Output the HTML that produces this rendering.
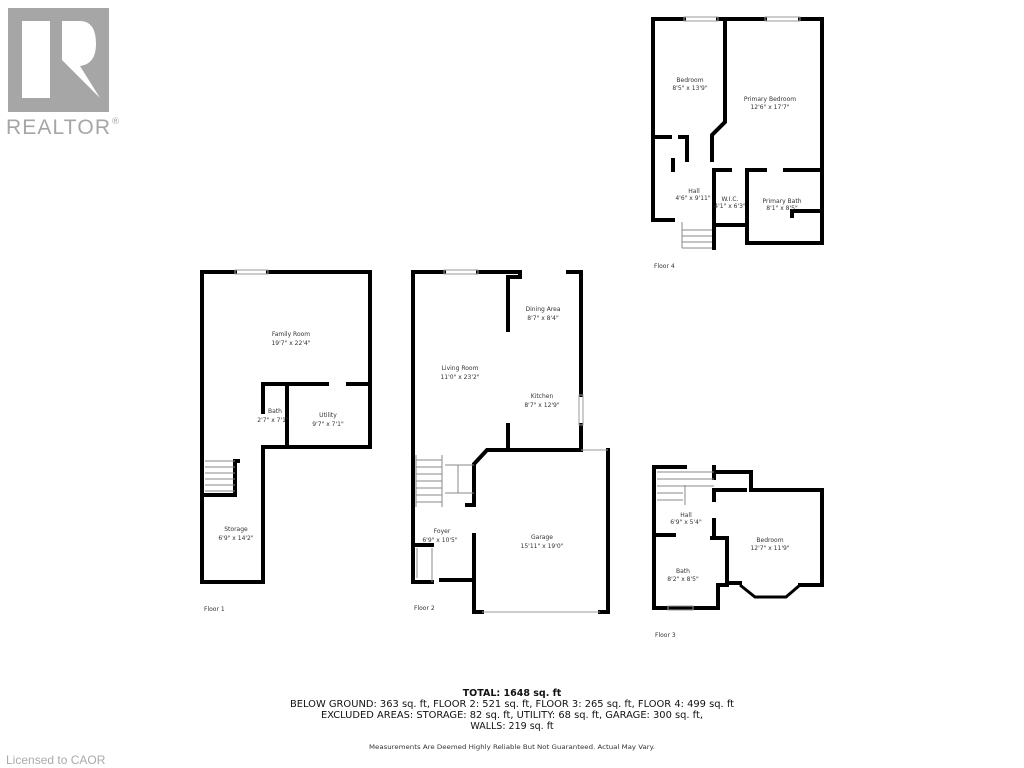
<!DOCTYPE html>
<html><head><meta charset="utf-8"><style>
body{margin:0;background:#fff;width:1024px;height:768px;overflow:hidden;font-family:"Liberation Sans",sans-serif}
svg{position:absolute;left:0;top:0}
</style></head><body>
<svg width="1024" height="768" viewBox="0 0 1024 768" font-family="DejaVu Sans, sans-serif">
<!-- REALTOR logo -->
<rect x="8" y="8" width="101" height="104" fill="#a6a6a6"/>
<rect x="22" y="21" width="28" height="77" fill="#fff"/>
<path d="M62 21 H80 Q96 21 96 44 Q96 64 80 66 L100 98 L62 60 Z" fill="#fff"/>
<text x="6" y="134" font-size="21" fill="#a6a6a6" font-family="Liberation Sans, sans-serif" textLength="104">REALTOR</text>
<text x="111" y="124" font-size="9" fill="#a6a6a6">®</text>

<g fill="none" stroke="#000" stroke-width="4" stroke-linecap="square">
<!-- Floor 1 -->
<polyline points="235,272 202,272 202,582 263,582 263,447 370,447 370,272 268,272"/>
<polyline points="263,412 263,384 327,384"/>
<line x1="348" y1="384" x2="370" y2="384"/>
<line x1="287" y1="384" x2="287" y2="447"/>
<polyline points="202,495 235,495 235,461 238,461"/>
<!-- Floor 2 -->
<polyline points="444,272 413,272 413,582 432,582"/>
<polyline points="478,272 520,272 520,277 508,277 508,330"/>
<line x1="508" y1="425" x2="508" y2="450"/>
<polyline points="568,272 581,272 581,395"/>
<polyline points="581,425 581,450 487,450 474,464 474,505"/>
<polyline points="474,535 474,612 482,612"/>
<polyline points="600,612 608,612 608,450"/>
<polyline points="413,545 432,545"/>
<line x1="467" y1="505" x2="474" y2="505"/>
<line x1="441" y1="580" x2="470" y2="580"/>
<!-- Floor 3 -->
<polyline points="685,467 654,467 654,608 718,608 718,585 727,585 727,538 712,538"/>
<line x1="654" y1="535" x2="674" y2="535"/>
<polyline points="714,467 714,478"/>
<polyline points="714,472 751,472 751,490 822,490 822,585 800,585"/>
<polyline points="740,583 727,583"/>
<line x1="714" y1="490" x2="714" y2="500"/>
<line x1="714" y1="520" x2="714" y2="538"/>
<line x1="718" y1="490" x2="745" y2="490"/>
<!-- Floor 4 -->
<polyline points="684,19 653,19 653,220 673,220"/>
<polyline points="718,19 765,19"/>
<polyline points="800,19 822,19 822,243 747,243 747,170 765,170"/>
<polyline points="785,170 822,170"/>
<polyline points="725,19 725,122 712,135 712,160"/>
<polyline points="714,170 714,248"/>
<polyline points="714,225 747,225"/>
<polyline points="714,170 730,170"/>
<polyline points="653,137 670,137"/>
<polyline points="680,137 687,137 687,160"/>
<line x1="673" y1="160" x2="673" y2="170"/>
<polyline points="792,216 792,211 820,211"/>
</g>
<g fill="none" stroke="#999" stroke-width="1">
<rect x="235" y="270" width="33" height="4"/>
<rect x="444" y="270" width="34" height="4"/>
<rect x="579" y="395" width="4" height="30"/>
<rect x="684" y="17" width="34" height="4"/>
<rect x="765" y="17" width="35" height="4"/>
<rect x="668" y="606" width="25" height="4"/>
<line x1="608" y1="450" x2="581" y2="450"/>
<line x1="482" y1="612" x2="600" y2="612"/>
<polyline points="740,585 755,597 786,597 800,585" stroke="#000" stroke-width="3"/>
<g stroke="#888">
<line x1="205" y1="461" x2="235" y2="461"/><line x1="205" y1="467" x2="235" y2="467"/><line x1="205" y1="473" x2="235" y2="473"/><line x1="205" y1="479" x2="235" y2="479"/><line x1="205" y1="485" x2="235" y2="485"/><line x1="205" y1="491" x2="235" y2="491"/>
<line x1="416" y1="455" x2="416" y2="507"/><line x1="442" y1="455" x2="442" y2="507"/>
<line x1="416" y1="460" x2="442" y2="460"/><line x1="416" y1="467" x2="442" y2="467"/><line x1="416" y1="474" x2="442" y2="474"/><line x1="416" y1="481" x2="442" y2="481"/><line x1="416" y1="488" x2="442" y2="488"/><line x1="416" y1="495" x2="442" y2="495"/><line x1="416" y1="502" x2="442" y2="502"/>
<line x1="445" y1="465" x2="474" y2="465"/><line x1="445" y1="493" x2="474" y2="493"/><line x1="458" y1="465" x2="458" y2="493"/>
<line x1="657" y1="472" x2="714" y2="472"/><line x1="657" y1="479" x2="714" y2="479"/><line x1="657" y1="486" x2="714" y2="486"/><line x1="657" y1="493" x2="683" y2="493"/><line x1="657" y1="500" x2="683" y2="500"/><line x1="685" y1="485" x2="685" y2="505"/>
<line x1="682" y1="222" x2="682" y2="248"/><line x1="682" y1="230" x2="712" y2="230"/><line x1="682" y1="236" x2="712" y2="236"/><line x1="682" y1="242" x2="712" y2="242"/><line x1="682" y1="248" x2="712" y2="248"/>
<line x1="432" y1="548" x2="432" y2="582"/><line x1="417" y1="548" x2="417" y2="578"/>
</g>
</g>
<g font-size="6" fill="#333" text-anchor="middle">
<text x="291" y="336">Family Room</text><text x="291" y="345">19'7" x 22'4"</text>
<text x="275" y="413">Bath</text><text x="273" y="422">2'7" x 7'1"</text>
<text x="328" y="417">Utility</text><text x="328" y="426">9'7" x 7'1"</text>
<text x="236" y="531">Storage</text><text x="236" y="540">6'9" x 14'2"</text>
<text x="460" y="370">Living Room</text><text x="460" y="379">11'0" x 23'2"</text>
<text x="543" y="311">Dining Area</text><text x="543" y="320">8'7" x 8'4"</text>
<text x="542" y="398">Kitchen</text><text x="542" y="407">8'7" x 12'9"</text>
<text x="442" y="533">Foyer</text><text x="440" y="542">6'9" x 10'5"</text>
<text x="542" y="539">Garage</text><text x="542" y="548">15'11" x 19'0"</text>
<text x="686" y="517">Hall</text><text x="686" y="524">6'9" x 5'4"</text>
<text x="770" y="542">Bedroom</text><text x="770" y="550">12'7" x 11'9"</text>
<text x="683" y="573">Bath</text><text x="683" y="581">8'2" x 8'5"</text>
<text x="690" y="82">Bedroom</text><text x="690" y="90">8'5" x 13'9"</text>
<text x="770" y="101">Primary Bedroom</text><text x="770" y="109">12'6" x 17'7"</text>
<text x="694" y="193">Hall</text><text x="693" y="200">4'6" x 9'11"</text>
<text x="730" y="201">W.I.C.</text><text x="730" y="208">4'1" x 6'3"</text>
<text x="782" y="203">Primary Bath</text><text x="782" y="210">8'1" x 8'5"</text>
</g>
<g font-size="6" fill="#333">
<text x="204" y="611">Floor 1</text><text x="414" y="610">Floor 2</text>
<text x="655" y="637">Floor 3</text><text x="654" y="268">Floor 4</text>
</g>
<g text-anchor="middle" fill="#111">
<text x="512" y="696" font-size="9.5" font-weight="bold">TOTAL: 1648 sq. ft</text>
<text x="512" y="707" font-size="9.5" textLength="444" lengthAdjust="spacingAndGlyphs">BELOW GROUND: 363 sq. ft, FLOOR 2: 521 sq. ft, FLOOR 3: 265 sq. ft, FLOOR 4: 499 sq. ft</text>
<text x="512" y="718" font-size="9.5" textLength="382" lengthAdjust="spacingAndGlyphs">EXCLUDED AREAS: STORAGE: 82 sq. ft, UTILITY: 68 sq. ft, GARAGE: 300 sq. ft,</text>
<text x="512" y="729" font-size="9.5">WALLS: 219 sq. ft</text>
<text x="512" y="749" font-size="6" fill="#333" textLength="286" lengthAdjust="spacingAndGlyphs">Measurements Are Deemed Highly Reliable But Not Guaranteed. Actual May Vary.</text>
</g>
<text x="6" y="764" font-size="12" fill="#aaa" font-family="Liberation Sans, sans-serif">Licensed to CAOR</text>
</svg>
</body></html>
